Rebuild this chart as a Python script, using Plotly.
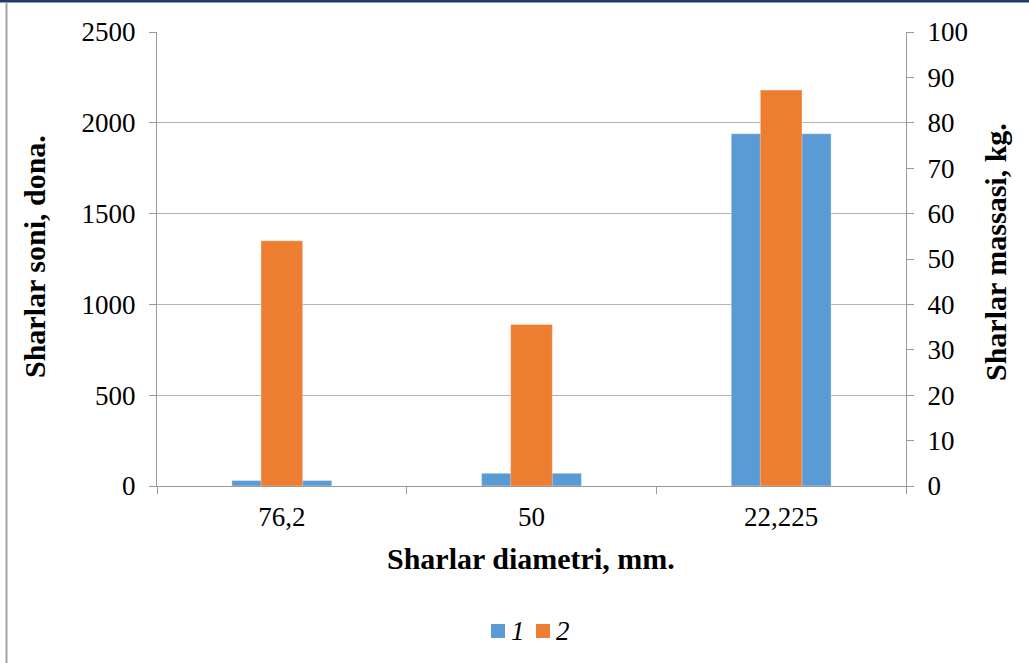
import plotly.graph_objects as go

# Ball diameters (mm) and the two series
categories = ["76,2", "50", "22,225"]
ball_count = [30, 70, 1940]        # series 1, pieces (left axis)
ball_mass = [54.0, 35.6, 87.2]     # series 2, kg (right axis)
series_names = ["1", "2"]
series_colors = ["#5b9bd5", "#ed7d31"]
left_ticks = [0, 500, 1000, 1500, 2000, 2500]
right_ticks = [0, 10, 20, 30, 40, 50, 60, 70, 80, 90, 100]

W, H = 1029, 663
L, R, T, B = 157, 906, 32, 486
pw, ph = R - L, B - T


def px_x(x):
    return (x - L) / pw


def px_y(y):
    return (B - y) / ph


FONT = "Liberation Serif, Times New Roman, serif"
GRID = "#b4b4b4"
AXIS = "#9a9a9a"
TICK_SIZE = 27
TITLE_SIZE = 30

fig = go.Figure()
fig.add_trace(go.Bar(
    x=categories, y=ball_count, name=series_names[0], width=0.4,
    marker=dict(color=series_colors[0], line=dict(color="rgba(255,255,255,0.35)", width=1)),
    yaxis="y",
))
fig.add_trace(go.Bar(
    x=categories, y=ball_mass, name=series_names[1], width=0.167,
    marker=dict(color=series_colors[1], line=dict(color="rgba(255,255,255,0.35)", width=1)),
    yaxis="y2",
))

fig.update_layout(
    width=W, height=H,
    margin=dict(l=L, r=W - R, t=T, b=H - B),
    paper_bgcolor="white", plot_bgcolor="white",
    barmode="overlay",
    font=dict(family=FONT, size=TICK_SIZE, color="black"),
    showlegend=False,
    xaxis=dict(
        type="category", tickson="boundaries", ticks="outside", ticklen=7,
        tickcolor=AXIS, showline=True, linecolor=AXIS, linewidth=1,
        showgrid=False, ticklabelstandoff=7,
        tickfont=dict(family=FONT, size=TICK_SIZE),
    ),
    yaxis=dict(
        range=[0, 2500], tickvals=left_ticks, ticks="outside", ticklen=7,
        tickcolor=AXIS, showline=True, linecolor=AXIS, linewidth=1,
        showgrid=True, gridcolor=GRID, gridwidth=1, zeroline=False,
        ticklabelstandoff=8, tickfont=dict(family=FONT, size=TICK_SIZE),
    ),
    yaxis2=dict(
        range=[0, 100], tickvals=right_ticks, overlaying="y", side="right",
        ticks="outside", ticklen=7, tickcolor=AXIS, showline=True,
        linecolor=AXIS, linewidth=1, showgrid=False, zeroline=False,
        ticklabelstandoff=8, tickfont=dict(family=FONT, size=TICK_SIZE),
    ),
)

# Axis titles
fig.add_annotation(
    text="<b>Sharlar soni, dona.</b>", xref="paper", yref="paper",
    x=px_x(35), y=px_y(256), textangle=-90, showarrow=False,
    xanchor="center", yanchor="middle", font=dict(family=FONT, size=TITLE_SIZE),
)
fig.add_annotation(
    text="<b>Sharlar massasi, kg.</b>", xref="paper", yref="paper",
    x=px_x(995), y=px_y(252), textangle=-90, showarrow=False,
    xanchor="center", yanchor="middle", font=dict(family=FONT, size=TITLE_SIZE),
)
fig.add_annotation(
    text="<b>Sharlar diametri, mm.</b>", xref="paper", yref="paper",
    x=px_x(531), y=px_y(558), showarrow=False,
    xanchor="center", yanchor="middle", font=dict(family=FONT, size=TITLE_SIZE),
)

# Legend: coloured squares with italic series labels
legend_x = [491, 536]
for name, color, lx in zip(series_names, series_colors, legend_x):
    fig.add_shape(type="rect", xref="paper", yref="paper",
                  x0=px_x(lx), x1=px_x(lx + 14), y0=px_y(638), y1=px_y(624),
                  fillcolor=color, line=dict(width=0))
    fig.add_annotation(text=name, xref="paper", yref="paper",
                       x=px_x(lx + 18), y=px_y(631), showarrow=False,
                       xanchor="left", yanchor="middle",
                       font=dict(family=FONT, size=TICK_SIZE, style="italic"))

# Frame lines: dark top rule and grey left rule
fig.add_shape(type="line", xref="paper", yref="paper",
              x0=px_x(0), x1=px_x(W), y0=px_y(1), y1=px_y(1),
              line=dict(color="#1f3a6b", width=3), layer="above")
fig.add_shape(type="line", xref="paper", yref="paper",
              x0=px_x(6.5), x1=px_x(6.5), y0=px_y(3), y1=px_y(H),
              line=dict(color="#a3a3a3", width=2), layer="above")

fig.write_html("out.html")
